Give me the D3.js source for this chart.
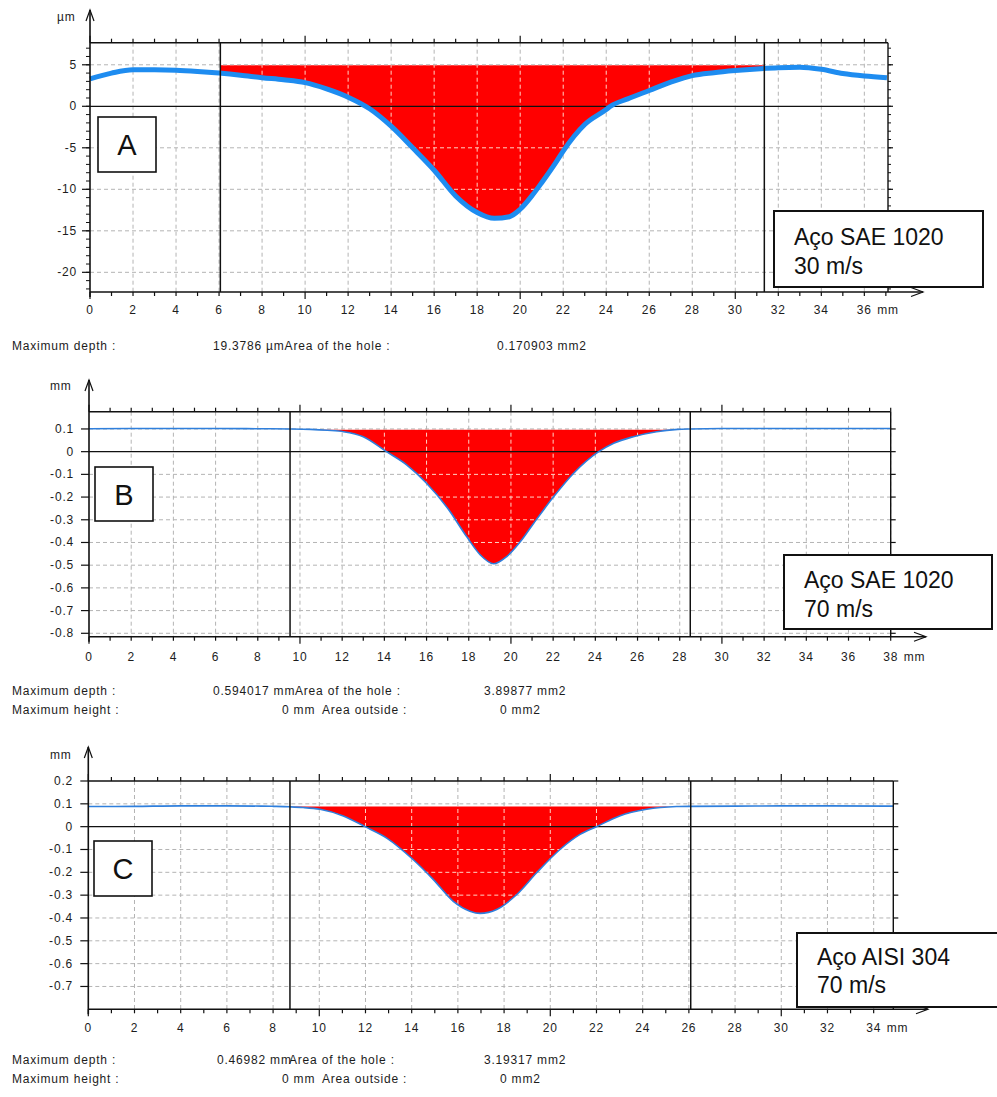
<!DOCTYPE html>
<html><head><meta charset="utf-8">
<script src="https://cdn.jsdelivr.net/npm/d3@7"></script>
<style>
body{margin:0;background:#fff;}
svg{display:block;}
text{font-family:"Liberation Sans",Arial,sans-serif;}
</style></head><body>
<svg id="chart" width="997" height="1097"></svg>
<script>
// ---------------- DATA ----------------
// Panel A : Aço SAE 1020, 30 m/s (µm)
const profileA = [[0,3.3],[1,4.0],[2,4.4],[3,4.4],[4,4.35],[5,4.2],[6,4.0],[7,3.75],[8,3.45],[9,3.2],[10,2.85],[11,2.1],[12,1.1],[13,-0.3],[14,-2.4],[15,-5.0],[16,-7.7],[17,-10.8],[18,-12.8],[18.8,-13.5],[19.5,-13.3],[20,-12.4],[20.6,-10.6],[21,-9.2],[21.7,-6.6],[22,-5.4],[23,-2.2],[24,-0.4],[24.2,0],[25,0.9],[26,1.9],[27,2.9],[28,3.7],[29,4.05],[30,4.3],[31,4.5],[32,4.65],[33,4.7],[34,4.45],[35,3.95],[36,3.65],[37.05,3.45]];
const cursorsA = [6.06, 31.35];
const refLevelA = 4.95;
const yTickLabelsA = ["5","0","-5","-10","-15","-20"];
const xTickLabelsA = ["0","2","4","6","8","10","12","14","16","18","20","22","24","26","28","30","32","34","36"];
const infoA = [["Maximum depth :","19.3786 µmArea of the hole :","0.170903 mm2"]];
const legendA = ["Aço SAE 1020","30 m/s"];

// Panel B : Aço SAE 1020, 70 m/s (mm)
const profileB = [[0,0.101],[2,0.102],[4,0.102],[6,0.102],[8,0.101],[9.5,0.1],[10.5,0.098],[11.3,0.094],[12.06,0.088],[13.0,0.066],[14.1,0.0],[15.07,-0.059],[16.0,-0.139],[17.0,-0.249],[17.9,-0.374],[18.55,-0.455],[19.18,-0.494],[19.8,-0.462],[20.45,-0.396],[21.08,-0.315],[22.03,-0.198],[22.97,-0.095],[24.16,0.0],[24.87,0.037],[25.8,0.066],[26.9,0.088],[27.9,0.098],[28.5,0.1],[30,0.102],[32,0.102],[34,0.102],[36,0.102],[38,0.102]];
const cursorsB = [9.53, 28.5];
const refLevelB = 0.097;
const yTickLabelsB = ["0.1","0","-0.1","-0.2","-0.3","-0.4","-0.5","-0.6","-0.7","-0.8"];
const xTickLabelsB = ["0","2","4","6","8","10","12","14","16","18","20","22","24","26","28","30","32","34","36","38"];
const infoB = [["Maximum depth :","0.594017 mm","Area of the hole :","3.89877 mm2"],["Maximum height :","0 mm","Area outside :","0 mm2"]];
const legendB = ["Aço SAE 1020","70 m/s"];

// Panel C : Aço AISI 304, 70 m/s (mm)
const profileC = [[0,0.088],[2,0.089],[4,0.091],[6,0.091],[7.5,0.09],[8.0,0.089],[8.73,0.087],[9.3,0.084],[10.03,0.076],[11.04,0.047],[11.98,0.0],[12.92,-0.05],[14.07,-0.145],[14.94,-0.232],[15.8,-0.327],[16.52,-0.37],[16.96,-0.38],[17.68,-0.363],[18.55,-0.297],[19.41,-0.202],[20.42,-0.1],[21.29,-0.034],[22.0,0.0],[23.0,0.047],[24.17,0.076],[25.47,0.088],[26.08,0.089],[28,0.09],[30,0.091],[32,0.091],[34.85,0.09]];
const cursorsC = [8.73, 26.08];
const refLevelC = 0.088;
const yTickLabelsC = ["0.2","0.1","0","-0.1","-0.2","-0.3","-0.4","-0.5","-0.6","-0.7"];
const xTickLabelsC = ["0","2","4","6","8","10","12","14","16","18","20","22","24","26","28","30","32","34"];
const infoC = [["Maximum depth :","0.46982 mm","Area of the hole :","3.19317 mm2"],["Maximum height :","0 mm","Area outside :","0 mm2"]];
const legendC = ["Aço AISI 304","70 m/s"];

const panelLetters = ["A","B","C"];
const unitLabels = ["µm","mm","mm"];

// ---------------- LAYOUT ----------------
const layouts = [
  {left:90,right:888,top:42.7,bottom:292,xMax:37.1,yMin:-22.37,yMax:7.66,arrowTop:10,arrowRight:923,unit:[57,17],xLabDy:18,yLabX:77,minorY:1,minorYFrom:-22,minorYTo:7,
   box:[98,117,58,55],legend:[774,211,209,76,794,245,274],lineW:5,lineColor:"#1e8cf0",
   info:{rows:[346],cols:[12,213,497]}},
  {left:89,right:890.7,top:411.7,bottom:636.7,xMax:38.0,yMin:-0.815,yMax:0.176,arrowTop:380,arrowRight:926,unit:[50,386],xLabDy:20,yLabX:74,minorY:0,
   box:[95,467,58,54],legend:[784,555,208,74,804,588,617],lineW:1.6,lineColor:"#2f7fdc",
   info:{rows:[691,710],cols:[12,213,295,484],cols2:[12,282,322,500]}},
  {left:88.3,right:893.3,top:781,bottom:1009.3,xMax:34.85,yMin:-0.8,yMax:0.2,arrowTop:747,arrowRight:928,unit:[50,755],xLabDy:19,yLabX:73,minorY:0,
   box:[94,841,58,55],legend:[797,933,210,74,817,965,993],lineW:1.6,lineColor:"#2f7fdc",
   info:{rows:[1060,1079],cols:[12,217,289,484],cols2:[12,282,322,500]}}
];

const panels = [
  {profile:profileA,cursors:cursorsA,ref:refLevelA,yLabels:yTickLabelsA,xLabels:xTickLabelsA,info:infoA,legend:legendA},
  {profile:profileB,cursors:cursorsB,ref:refLevelB,yLabels:yTickLabelsB,xLabels:xTickLabelsB,info:infoB,legend:legendB},
  {profile:profileC,cursors:cursorsC,ref:refLevelC,yLabels:yTickLabelsC,xLabels:xTickLabelsC,info:infoC,legend:legendC}
];

const svg = d3.select("#chart");
const defs = svg.append("defs");
const smallFont = {size:12, ls:0.8, color:"#1c1c1c"};

function smallText(g, str, x, y, anchor){
  return g.append("text").attr("x",x).attr("y",y)
    .attr("text-anchor",anchor||"start").attr("dominant-baseline","central")
    .attr("font-size",smallFont.size).attr("letter-spacing",smallFont.ls)
    .attr("fill",smallFont.color).text(str);
}

panels.forEach((p,i)=>{
  const L = layouts[i];
  const g = svg.append("g");
  const x = d3.scaleLinear().domain([0,L.xMax]).range([L.left,L.right]);
  const y = d3.scaleLinear().domain([L.yMin,L.yMax]).range([L.bottom,L.top]);
  const yVals = p.yLabels.map(Number);
  const xVals = p.xLabels.map(Number);

  function grid(sel, color){
    xVals.filter(v=>v>0).forEach(v=>{
      sel.append("line").attr("x1",x(v)).attr("x2",x(v)).attr("y1",L.top).attr("y2",L.bottom)
        .attr("stroke",color).attr("stroke-width",1).attr("stroke-dasharray","4,3");
    });
    yVals.filter(v=>v!==0 && Math.abs(y(v)-L.top)>2).forEach(v=>{
      sel.append("line").attr("x1",L.left).attr("x2",L.right).attr("y1",y(v)).attr("y2",y(v))
        .attr("stroke",color).attr("stroke-width",1).attr("stroke-dasharray","4,3");
    });
  }
  grid(g.append("g"), "#b4b4b4");

  const cid = "cur"+i, rid = "red"+i;
  defs.append("clipPath").attr("id",cid).append("rect")
    .attr("x",x(p.cursors[0])).attr("y",L.top).attr("width",x(p.cursors[1])-x(p.cursors[0])).attr("height",L.bottom-L.top);
  const area = d3.area().curve(d3.curveMonotoneX)
    .x(d=>x(d[0])).y0(y(p.ref)).y1(d=>y(Math.min(d[1],p.ref)));
  const areaD = area(p.profile);
  defs.append("clipPath").attr("id",rid).append("path").attr("d",areaD);
  const gc = g.append("g").attr("clip-path",`url(#${cid})`);
  gc.append("path").attr("d",areaD).attr("fill","#ff0000");
  grid(gc.append("g").attr("clip-path",`url(#${rid})`), "#ffd2c4");

  g.append("line").attr("x1",L.left).attr("x2",L.right).attr("y1",y(0)).attr("y2",y(0))
    .attr("stroke","#111").attr("stroke-width",1.2);

  const line = d3.line().curve(d3.curveMonotoneX).x(d=>x(d[0])).y(d=>y(d[1]));
  g.append("path").attr("d",line(p.profile)).attr("fill","none")
    .attr("stroke",L.lineColor).attr("stroke-width",L.lineW).attr("stroke-linejoin","round");

  p.cursors.forEach(c=>{
    g.append("line").attr("x1",x(c)).attr("x2",x(c)).attr("y1",L.top).attr("y2",L.bottom)
      .attr("stroke","#111").attr("stroke-width",1.5);
  });

  g.append("line").attr("x1",L.left).attr("x2",L.right).attr("y1",L.top).attr("y2",L.top).attr("stroke","#111").attr("stroke-width",1.4);
  g.append("line").attr("x1",L.right).attr("x2",L.right).attr("y1",L.top).attr("y2",L.bottom).attr("stroke","#111").attr("stroke-width",1.4);
  g.append("line").attr("x1",L.left).attr("x2",L.left).attr("y1",L.bottom+5).attr("y2",L.arrowTop).attr("stroke","#111").attr("stroke-width",1.6);
  g.append("line").attr("x1",L.left).attr("x2",L.arrowRight).attr("y1",L.bottom).attr("y2",L.bottom).attr("stroke","#111").attr("stroke-width",1.6);
  g.append("path").attr("d",`M${L.left-4},${L.arrowTop+11}L${L.left},${L.arrowTop}L${L.left+4},${L.arrowTop+11}`)
    .attr("fill","none").attr("stroke","#111").attr("stroke-width",1.2);
  g.append("path").attr("d",`M${L.arrowRight-12},${L.bottom-4.5}L${L.arrowRight},${L.bottom}L${L.arrowRight-12},${L.bottom+4.5}`)
    .attr("fill","none").attr("stroke","#111").attr("stroke-width",1.2);

  d3.range(0, Math.floor(L.xMax)+1).forEach(v=>{
    const len = v%10===0 ? 7 : 4;
    g.append("line").attr("x1",x(v)).attr("x2",x(v)).attr("y1",L.bottom).attr("y2",L.bottom+len).attr("stroke","#111").attr("stroke-width",1.2);
    g.append("line").attr("x1",x(v)).attr("x2",x(v)).attr("y1",L.top).attr("y2",L.top-len).attr("stroke","#111").attr("stroke-width",1.2);
  });
  yVals.forEach(v=>{
    g.append("line").attr("x1",L.left-8).attr("x2",L.left).attr("y1",y(v)).attr("y2",y(v)).attr("stroke","#111").attr("stroke-width",1.2);
    g.append("line").attr("x1",L.right).attr("x2",L.right+5).attr("y1",y(v)).attr("y2",y(v)).attr("stroke","#111").attr("stroke-width",1.2);
  });
  if(L.minorY){
    d3.range(L.minorYFrom, L.minorYTo+1, L.minorY).forEach(v=>{
      g.append("line").attr("x1",L.left-4).attr("x2",L.left).attr("y1",y(v)).attr("y2",y(v)).attr("stroke","#111").attr("stroke-width",1);
      g.append("line").attr("x1",L.right).attr("x2",L.right+3).attr("y1",y(v)).attr("y2",y(v)).attr("stroke","#111").attr("stroke-width",1);
    });
  }
  p.xLabels.forEach((s,k)=>smallText(g, s, x(xVals[k]), L.bottom+L.xLabDy, "middle"));
  const last = xVals[xVals.length-1];
  smallText(g, "mm", x(last)+13, L.bottom+L.xLabDy, "start");
  p.yLabels.forEach((s,k)=>smallText(g, s, L.yLabX, y(yVals[k]), "end"));
  smallText(g, unitLabels[i], L.unit[0], L.unit[1], "start");

  g.append("rect").attr("x",L.box[0]).attr("y",L.box[1]).attr("width",L.box[2]).attr("height",L.box[3])
    .attr("fill","#fff").attr("stroke","#111").attr("stroke-width",1.6);
  g.append("text").attr("x",L.box[0]+L.box[2]/2).attr("y",L.box[1]+L.box[3]/2+10.5).attr("text-anchor","middle")
    .attr("font-size",29).attr("fill","#111").text(panelLetters[i]);

  const lg = L.legend;
  g.append("rect").attr("x",lg[0]).attr("y",lg[1]).attr("width",lg[2]).attr("height",lg[3])
    .attr("fill","#fff").attr("stroke","#111").attr("stroke-width",2);
  g.append("text").attr("x",lg[4]).attr("y",lg[5]).attr("font-size",23).attr("fill","#111").text(p.legend[0]);
  g.append("text").attr("x",lg[4]).attr("y",lg[6]).attr("font-size",23).attr("fill","#111").text(p.legend[1]);

  p.info.forEach((row,r)=>{
    const cols = r===0 ? L.info.cols : L.info.cols2;
    row.forEach((s,c)=>smallText(g, s, cols[c], L.info.rows[r], "start"));
  });
});
</script>
</body></html>
